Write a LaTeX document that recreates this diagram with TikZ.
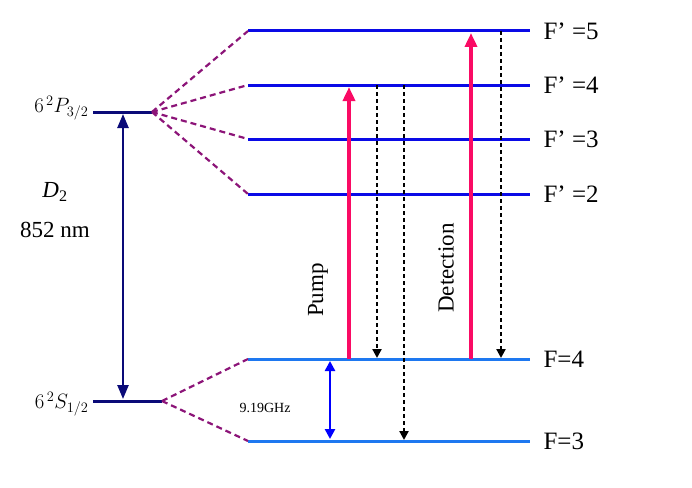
\documentclass[tikz,border=0pt]{standalone}
\usepackage{fontspec}
\setmainfont{Liberation Serif}
\usetikzlibrary{arrows.meta}
\definecolor{cLev}{RGB}{10,10,230}
\definecolor{cLevL}{RGB}{30,120,240}
\definecolor{cNavy}{RGB}{10,10,120}
\definecolor{cPurp}{RGB}{140,20,120}
\definecolor{cPink}{RGB}{250,10,100}
\begin{document}
\begin{tikzpicture}[x=1pt,y=-1pt,
 uplevel/.style={line width=3pt,cLev},
 lowlevel/.style={line width=3pt,cLevL},
 fan/.style={cPurp,line width=2.2pt,dash pattern=on 6pt off 4pt},
 laser/.style={cPink,line width=3.5pt,-{Triangle[length=14pt,width=12pt]}},
 decay/.style={black,line width=2.2pt,dash pattern=on 4pt off 3pt,-{Triangle[length=9pt,width=9pt]}},
 lab/.style={font=\fontsize{25}{25}\selectfont,anchor=west}]
\useasboundingbox (0,0) rectangle (692,487);
\coordinate (P) at (152,112);
\coordinate (S) at (162,401);
\draw[cNavy,line width=3pt] (93,112) -- (P);
\draw[cNavy,line width=3pt] (93,401) -- (S);
\draw[cNavy,line width=2.5pt,{Triangle[length=14pt,width=11pt]}-{Triangle[length=14pt,width=11pt]}] (123,114) -- (123,399);
\foreach \n/\y/\t in {a/31/5,b/85/4,c/139/3,d/194/2}{
  \coordinate (\n L) at (248,\y); \coordinate (\n R) at (530,\y);
  \draw[uplevel] (\n L) -- (\n R);
  \node[lab] (t\n) at (540,\y) {F’ =\t};
  \draw[fan] (P) -- (\n L);
}
\foreach \n/\y/\t in {e/359/4,f/441/3}{
  \coordinate (\n L) at (248,\y); \coordinate (\n R) at (530,\y);
  \draw[lowlevel] (\n L) -- (\n R);
  \node[lab] (t\n) at (540,\y) {F=\t};
  \draw[fan] (S) -- (\n L);
}
\coordinate (p1) at (349,359); \coordinate (p2) at (349,87);
\coordinate (q1) at (471,359); \coordinate (q2) at (471,33);
\draw[laser] (p1) -- (p2);
\draw[laser] (q1) -- (q2);
\coordinate (d1) at (377,85); \coordinate (d1e) at (377,358);
\coordinate (d2) at (404,85); \coordinate (d2e) at (404,440);
\coordinate (d3) at (501,31); \coordinate (d3e) at (501,358);
\draw[decay] (d1) -- (d1e);
\draw[decay] (d2) -- (d2e);
\draw[decay] (d3) -- (d3e);
\draw[blue,line width=2.5pt,{Triangle[length=10pt,width=10pt]}-{Triangle[length=10pt,width=10pt]}] (330,361) -- (330,439);
\node[font=\fontsize{14}{14}\selectfont] (ghz) at (265,408) {9.19GHz};
\node[rotate=90,font=\fontsize{23}{23}\selectfont] (pump) at (318,290) {Pump};
\node[rotate=90,font=\fontsize{23}{23}\selectfont] (det) at (446,268) {Detection};
\node[anchor=east,font=\fontsize{21}{21}\selectfont] (pl) at (92,108) {$6^{\,2}P_{3/2}$};
\node[anchor=east,font=\fontsize{21}{21}\selectfont] (sl) at (92,404) {$6^{\,2}S_{1/2}$};
\node[font=\fontsize{23}{23}\selectfont] (d2l) at (55,192) {\textit{D}\textsubscript{2}};
\node[font=\fontsize{23}{23}\selectfont] (nm) at (55,230) {852 nm};
\end{tikzpicture}
\end{document}
